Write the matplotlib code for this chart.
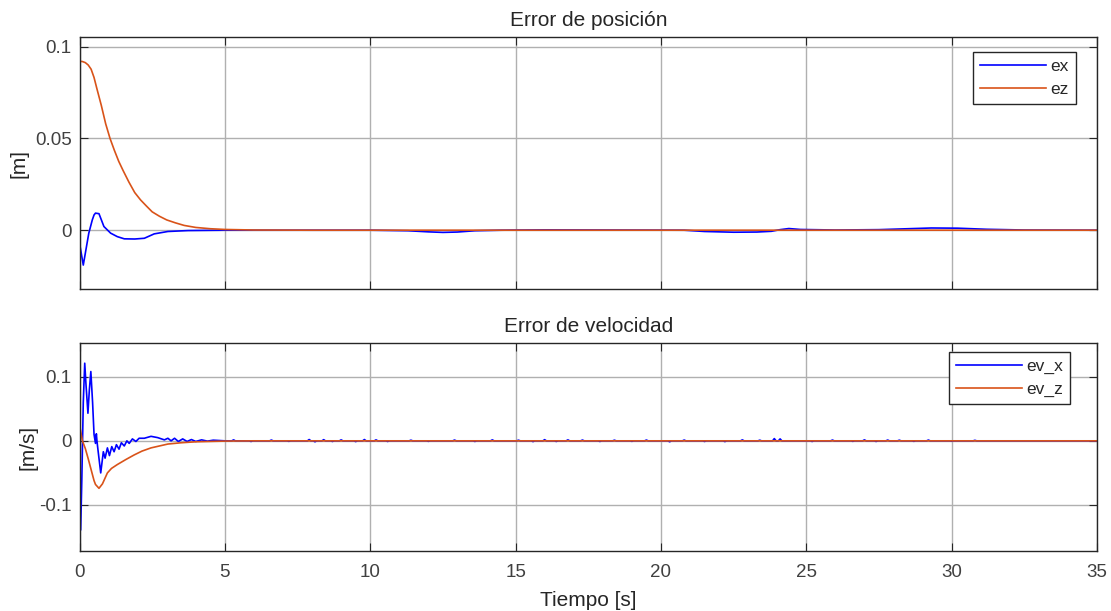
import matplotlib
matplotlib.use("Agg")
import matplotlib.pyplot as plt
import numpy as np

plt.rcParams['font.family'] = ['Liberation Sans', 'DejaVu Sans']

# ---------------- position error ----------------
ex_t = [0, 0.13, 0.32, 0.44, 0.5, 0.55, 0.67, 0.84, 1.07, 1.3, 1.54, 1.9, 2.23, 2.57,
        3.04, 3.73, 5, 6, 10, 11.3, 12.0, 12.5, 13.0, 13.6, 14.5, 16, 20.8, 21.5, 22.5,
        23.3, 23.8, 24.1, 24.4, 24.8, 26, 27.5, 28.5, 29.3, 30.2, 31.2, 32.5, 35]
ex_v = [-0.007, -0.019, -0.0016, 0.0056, 0.0083, 0.0093, 0.009, 0.002, -0.0016, -0.0035,
        -0.0047, -0.0048, -0.0044, -0.002, -0.0007, -0.0002, 0, 0, 0, -0.0003, -0.0009,
        -0.0012, -0.001, -0.0003, 0, 0.0002, 0, -0.0007, -0.0011, -0.001, -0.0006, 0.0003,
        0.0009, 0.0004, 0.0001, 0.0003, 0.0008, 0.0012, 0.0011, 0.0005, 0.0001, 0]

ez_t = [0, 0.1, 0.2, 0.3, 0.4, 0.5, 0.6, 0.75, 0.9, 1.05, 1.2, 1.35, 1.5, 1.7, 1.9, 2.1,
        2.3, 2.5, 2.75, 3.0, 3.3, 3.6, 4.0, 4.5, 5, 6, 8, 35]
ez_v = [0.092, 0.0919, 0.0913, 0.0900, 0.0877, 0.0832, 0.0770, 0.0680, 0.0580, 0.0500,
        0.0435, 0.0375, 0.0325, 0.0262, 0.0205, 0.0165, 0.0132, 0.0100, 0.0076, 0.0056,
        0.0040, 0.0026, 0.0015, 0.0008, 0.0004, 0.0001, 0, 0]

# ---------------- velocity error ----------------
evx_t = [0, 0.04, 0.08, 0.13, 0.18, 0.22, 0.29, 0.34, 0.39, 0.45, 0.5, 0.55, 0.58, 0.6,
         0.63, 0.73, 0.82, 0.88, 0.96, 1.03, 1.11, 1.19, 1.27, 1.36, 1.44, 1.54, 1.63,
         1.71, 1.82, 1.94, 2.05, 2.23, 2.46, 2.69, 2.92, 3.04, 3.15, 3.27, 3.4, 3.55,
         3.7, 3.85, 4.0, 4.2, 4.4, 4.6, 5.0]
evx_v = [0, -0.139, -0.06, 0.06, 0.121, 0.09, 0.043, 0.08, 0.108, 0.06, 0.01, -0.004,
         0.011, 0.0, -0.012, -0.050, -0.017, -0.027, -0.011, -0.023, -0.009, -0.017,
         -0.006, -0.013, -0.003, -0.008, 0.0, -0.004, 0.003, -0.001, 0.004, 0.004, 0.007,
         0.005, 0.0015, 0.004, 0.0, 0.004, -0.001, 0.003, -0.001, 0.002, -0.001, 0.0015,
         -0.0005, 0.001, 0]

# small sensor-noise spikes on ev_x after the transient
blip_t = [5.3, 5.9, 6.6, 7.2, 7.9, 8.1, 8.4, 8.7, 9.0, 9.5, 9.8, 10.2, 10.6, 11.4, 12.0,
          12.9, 13.6, 14.2, 15.1, 15.6, 16.0, 16.4, 16.8, 17.3, 17.9, 18.4, 19.0, 19.5,
          20.3, 20.8, 21.5, 22.2, 22.8, 23.4, 23.9, 24.1, 25.2, 25.9, 26.6, 27.0, 27.4,
          27.8, 28.2, 28.7, 29.2, 30.0, 30.8]
blip_a = [0.0015, -0.001, 0.0012, -0.0008, 0.002, -0.0015, 0.0018, -0.001, 0.0015,
          -0.0012, 0.002, 0.0015, -0.001, 0.001, -0.0008, 0.0012, -0.001, 0.0015, 0.001,
          -0.0012, 0.0018, -0.001, 0.0015, 0.0012, -0.001, 0.001, -0.0008, 0.0012,
          -0.0015, 0.0012, -0.001, -0.0012, 0.0015, 0.001, 0.0035, 0.003, -0.001,
          0.0012, -0.0008, 0.0015, -0.001, 0.0012, 0.001, -0.0008, 0.0012, -0.0006, 0.0008]

evz_t = [0, 0.1, 0.2, 0.3, 0.4, 0.5, 0.55, 0.67, 0.79, 0.96, 1.1, 1.3, 1.6, 1.88, 2.15,
         2.46, 3.04, 3.5, 4.0, 5, 6, 35]
evz_v = [0.025, 0.0, -0.012, -0.028, -0.045, -0.062, -0.068, -0.074, -0.067, -0.050,
         -0.043, -0.037, -0.029, -0.022, -0.016, -0.011, -0.005, -0.003, -0.0015,
         -0.0004, 0, 0]

# assemble the ev_x tail from the spike list
tail_t, tail_v = [], []
for t, a in zip(blip_t, blip_a):
    tail_t += [t - 0.06, t, t + 0.06]
    tail_v += [0.0, a, 0.0]
evx_full_t = evx_t + tail_t + [35]
evx_full_v = evx_v + tail_v + [0]

BLUE = '#0000ff'
ORANGE = '#d95319'
TXT = '#262626'
TICKFS = 13.5
LABELFS = 15
LEGFS = 12.5

fig = plt.figure(figsize=(11.11, 6.11), dpi=100)
W, H = 1111, 611
def rect(l, t, r, b):
    return [l / W, 1 - b / H, (r - l) / W, (b - t) / H]

ax1 = fig.add_axes(rect(79.5, 37.3, 1097, 289.3))
ax2 = fig.add_axes(rect(79.5, 343.3, 1097, 551))

def style(ax):
    ax.set_xlim(0, 35)
    ax.set_xticks(np.arange(0, 36, 5))
    ax.grid(True, color='#b0b0b0', linewidth=1.0)
    ax.set_axisbelow(True)
    for s in ax.spines.values():
        s.set_color(TXT)
        s.set_linewidth(1.0)
    ax.tick_params(direction='in', top=True, right=True, length=6, width=0.8,
                   colors=TXT, labelsize=TICKFS, labelcolor='#404040')
    ax.tick_params(axis='x', pad=9.5)
    ax.tick_params(axis='y', pad=5.5)

def legend(ax, anchor):
    leg = ax.legend(loc='upper right', bbox_to_anchor=anchor, borderaxespad=0,
                    fontsize=LEGFS, handlelength=3.8, handletextpad=0.25,
                    borderpad=0.4, labelspacing=0.45, fancybox=False,
                    edgecolor=TXT, framealpha=1)
    leg.get_frame().set_linewidth(1.0)
    for t in leg.get_texts():
        t.set_color(TXT)

ax1.plot(ex_t, ex_v, color=BLUE, lw=1.2, label='ex')
ax1.plot(ez_t, ez_v, color=ORANGE, lw=1.2, label='ez')
style(ax1)
ax1.set_ylim(-0.0322, 0.1051)
ax1.set_yticks([0, 0.05, 0.1])
ax1.set_yticklabels(['0', '0.05', '0.1'])
ax1.set_xticklabels([])
ax1.set_ylabel('[m]', fontsize=LABELFS, color=TXT)
ax1.yaxis.set_label_coords(-0.050, 0.5)
ax1.set_title('Error de posición', fontsize=LABELFS, color=TXT, pad=8)
legend(ax1, (0.979, 0.942))

ax2.plot(evx_full_t, evx_full_v, color=BLUE, lw=1.2, label='ev_x')
ax2.plot(evz_t, evz_v, color=ORANGE, lw=1.2, label='ev_z')
style(ax2)
ax2.set_ylim(-0.1717, 0.152)
ax2.set_yticks([-0.1, 0, 0.1])
ax2.set_yticklabels(['-0.1', '0', '0.1'])
ax2.set_xticklabels([str(v) for v in range(0, 36, 5)])
ax2.set_ylabel('[m/s]', fontsize=LABELFS, color=TXT)
ax2.yaxis.set_label_coords(-0.041, 0.5)
ax2.set_xlabel('Tiempo [s]', fontsize=LABELFS, color=TXT, labelpad=7)
ax2.set_title('Error de velocidad', fontsize=LABELFS, color=TXT, pad=8)
legend(ax2, (0.9735, 0.958))

fig.savefig('out.png', dpi=100)
